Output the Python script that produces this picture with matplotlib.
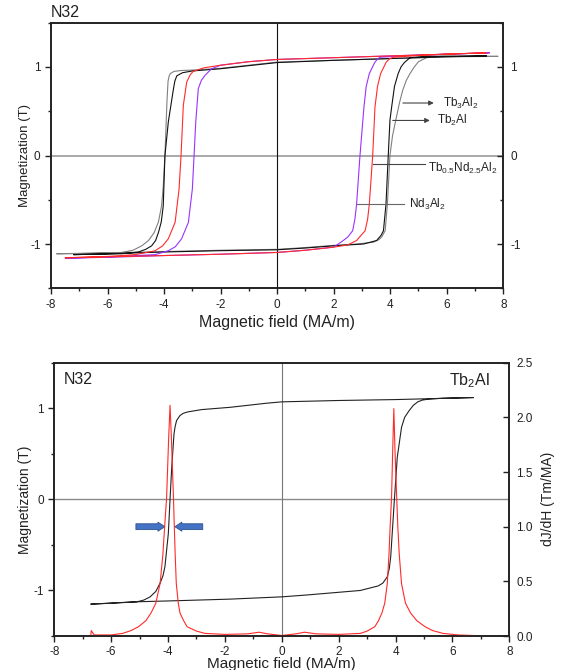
# Hysteresis loops (N32) and dJ/dH of the Tb2Al sample

import matplotlib
matplotlib.use('Agg')
import matplotlib.pyplot as plt
from matplotlib.ticker import MultipleLocator, FormatStrFormatter

plt.rcParams['font.family'] = ['Liberation Sans', 'DejaVu Sans']
plt.rcParams['mathtext.default'] = 'regular'
plt.rcParams['axes.unicode_minus'] = False

# Step 1: data (H in MA/m, M in T)
# loop = descending branch followed by ascending branch
tb3al2_h = [7.8, 6.0, 4.0, 2.0, 0.0, -2.0, -3.0, -3.4, -3.65, -3.78, -3.82, -3.86, -3.9, -3.97, -4.03,
            -4.09, -4.2, -4.35, -4.55, -4.79, -5.1, -5.5, -6.5, -7.8,
            -6.0, -4.0, -2.0, 0.0, 1.0, 2.0, 2.8, 3.4, 3.6, 3.7, 3.82, 3.9, 3.99, 4.08, 4.17,
            4.32, 4.44, 4.57, 4.7, 4.85, 5.0, 5.29, 5.8, 7.8]
tb3al2_m = [1.12, 1.115, 1.095, 1.075, 1.055, 0.985, 0.965, 0.96, 0.95, 0.925, 0.9, 0.84, 0.6, 0.0, -0.35,
            -0.57, -0.75, -0.87, -0.96, -1.02, -1.07, -1.095, -1.105, -1.11,
            -1.10, -1.085, -1.07, -1.06, -1.04, -1.015, -1.0, -0.98, -0.95, -0.92, -0.85, -0.55, 0.0, 0.22, 0.36,
            0.585, 0.736, 0.85, 0.925, 1.0, 1.06, 1.105, 1.12, 1.12]

tb2al_h = [7.4, 6.0, 4.0, 2.0, 0.0, -2.0, -3.0, -3.35, -3.55, -3.62, -3.67, -3.85, -3.97, -4.03, -4.1,
           -4.2, -4.3, -4.44, -4.65, -4.91, -5.5, -6.5, -7.2,
           -6.0, -4.0, -2.0, 0.0, 1.0, 2.0, 3.05, 3.52, 3.68, 3.76, 3.85, 3.93, 3.99, 4.05, 4.15,
           4.28, 4.38, 4.5, 4.7, 5.2, 7.4]
tb2al_m = [1.125, 1.115, 1.095, 1.075, 1.05, 0.98, 0.955, 0.935, 0.9, 0.84, 0.75, 0.38, 0.0, -0.57, -0.75,
           -0.87, -0.96, -1.02, -1.06, -1.09, -1.11, -1.115, -1.12,
           -1.11, -1.09, -1.075, -1.065, -1.045, -1.02, -1.0, -0.96, -0.9, -0.85, -0.55, 0.0, 0.4, 0.547, 0.78,
           0.925, 1.0, 1.05, 1.105, 1.12, 1.125]

tbnd_h = [7.4, 6.0, 4.0, 2.0, 0.0, -1.0, -2.0, -2.6, -2.97, -3.08, -3.2, -3.32, -3.40, -3.47, -3.61,
          -3.85, -4.05, -4.32, -5.03, -6.0, -7.5,
          -6.0, -4.0, -2.0, 0.0, 1.0, 2.0, 2.5, 2.81, 3.11, 3.2, 3.26, 3.38, 3.46, 3.55, 3.66, 3.85,
          3.96, 4.11, 5.0, 6.0, 7.4]
tbnd_m = [1.16, 1.145, 1.125, 1.105, 1.085, 1.06, 1.02, 0.99, 0.95, 0.91, 0.83, 0.566, 0.0, -0.377, -0.755,
          -0.94, -1.02, -1.076, -1.12, -1.14, -1.155,
          -1.145, -1.13, -1.115, -1.095, -1.07, -1.035, -1.01, -0.96, -0.85, -0.72, -0.55, 0.0, 0.547, 0.78,
          0.925, 1.05, 1.09, 1.11, 1.13, 1.145, 1.16]

nd3al2_h = [7.5, 6.0, 4.0, 2.0, 0.0, -1.0, -2.0, -2.32, -2.55, -2.68, -2.79, -2.88, -2.94, -3.0, -3.14,
            -3.38, -3.6, -3.85, -4.32, -6.0, -7.5,
            -6.0, -4.0, -2.0, 0.0, 1.0, 2.0, 2.34, 2.5, 2.67, 2.75, 2.81, 2.93, 3.07, 3.15, 3.26, 3.45,
            3.55, 3.64, 4.5, 6.0, 7.5]
nd3al2_m = [1.16, 1.145, 1.125, 1.105, 1.085, 1.06, 1.02, 0.98, 0.906, 0.85, 0.755, 0.377, 0.0, -0.377, -0.755,
            -0.94, -1.03, -1.076, -1.12, -1.145, -1.16,
            -1.15, -1.13, -1.115, -1.095, -1.07, -1.035, -0.96, -0.92, -0.85, -0.72, -0.55, 0.0, 0.547, 0.78,
            0.925, 1.05, 1.09, 1.11, 1.125, 1.145, 1.16]

# bottom panel: Tb2Al loop and its derivative
loop_h = [6.73, 4.0, 2.0, 0.0, -0.54, -1.82, -2.82, -3.3, -3.46, -3.58, -3.70, -3.75, -3.79, -3.87, -3.93,
          -3.99, -4.11, -4.18, -4.28, -4.43, -4.63, -4.85, -5.10, -6.0, -6.72,
          -5.2, -4.0, -1.82, 0.0, 0.86, 2.76, 3.39, 3.55, 3.71, 3.78, 3.83, 3.96, 4.06, 4.21, 4.32, 4.47,
          4.62, 4.78, 4.95, 5.17, 5.67, 6.73]
loop_m = [1.117, 1.095, 1.085, 1.07, 1.055, 1.01, 0.985, 0.96, 0.945, 0.92, 0.865, 0.8, 0.72, 0.354, 0.0,
          -0.376, -0.74, -0.84, -0.92, -1.01, -1.07, -1.105, -1.125, -1.14, -1.15,
          -1.125, -1.115, -1.095, -1.07, -1.05, -1.0, -0.95, -0.92, -0.85, -0.76, -0.63, 0.0, 0.46, 0.79, 0.9,
          0.97, 1.03, 1.07, 1.09, 1.10, 1.11, 1.117]

djdh_h = [-6.72, -6.7, -6.6, -6.0, -5.6, -5.3, -5.04, -4.78, -4.6, -4.43, -4.28, -4.18, -4.12, -4.05,
          -3.98, -3.93, -3.88, -3.81, -3.78, -3.75, -3.71, -3.64, -3.58, -3.45, -3.33, -3.0, -2.7, -2.0,
          -1.2, -0.8, -0.5, 0.0, 0.5, 0.8, 1.2, 2.0, 2.76, 3.0, 3.27, 3.4, 3.52, 3.62, 3.71, 3.77, 3.81,
          3.86, 3.90, 3.94, 3.98, 4.04, 4.08, 4.13, 4.21, 4.35, 4.53, 4.75, 5.04, 5.3, 5.67, 6.2, 6.72]
djdh = [0.0, 0.05, 0.01, 0.01, 0.024, 0.05, 0.085, 0.14, 0.21, 0.3, 0.48, 0.75, 1.0, 1.27,
        1.8, 2.11, 1.8, 1.27, 1.0, 0.75, 0.48, 0.3, 0.21, 0.14, 0.085, 0.045, 0.024, 0.015,
        0.02, 0.035, 0.02, 0.005, 0.02, 0.035, 0.02, 0.015, 0.024, 0.045, 0.085, 0.14, 0.21, 0.3, 0.48, 0.75, 1.0,
        1.27, 1.7, 2.08, 1.7, 1.27, 1.0, 0.75, 0.48, 0.3, 0.21, 0.14, 0.085, 0.05, 0.024, 0.01, 0.005]
base_h = [-6.72, 6.72]
base_v = [0.0, 0.0]

# Step 2: figure and axes
fig = plt.figure(figsize=(5.65, 6.7), dpi=100)
ax1 = fig.add_axes([0.0903, 0.5697, 0.8005, 0.3964])
ax2 = fig.add_axes([0.0961, 0.0507, 0.8053, 0.4080])

txt = '#222222'


def style_axis(ax):
    ax.set_xlim(-8, 8)
    ax.set_ylim(-1.5, 1.5)
    ax.xaxis.set_major_locator(MultipleLocator(2))
    ax.xaxis.set_minor_locator(MultipleLocator(1))
    ax.yaxis.set_major_locator(MultipleLocator(1))
    ax.yaxis.set_minor_locator(MultipleLocator(0.5))
    ax.tick_params(which='both', direction='out', top=False, right=False,
                   colors='#222222', labelsize=8.5, width=1.0, pad=3)
    ax.tick_params(which='major', length=4.5)
    ax.tick_params(which='minor', length=2.5)
    for s in ax.spines.values():
        s.set_linewidth(1.2)
        s.set_color('#222222')


# Step 3: top panel - four hysteresis loops
style_axis(ax1)
ax1.axhline(0, color='#9a9a9a', lw=1.2, zorder=1)
ax1.axvline(0, color='#111111', lw=0.8, zorder=1)
ax1.plot(tb3al2_h, tb3al2_m, color='#808080', lw=0.8)
ax1.plot(tb2al_h, tb2al_m, color='#111111', lw=0.8)
ax1.plot(nd3al2_h, nd3al2_m, color='#9933ff', lw=0.8)
ax1.plot(tbnd_h, tbnd_m, color='#ff2a2a', lw=0.8)

ax1.set_xlabel('Magnetic field (MA/m)', fontsize=11.5, color=txt, labelpad=3)
ax1.set_ylabel('Magnetization (T)', fontsize=9.5, color=txt, labelpad=-1)
ax1.text(0.0, 1.037, 'N32', transform=ax1.transAxes, fontsize=11.5, color=txt, va='center', ha='left')

ax1r = ax1.twinx()
ax1r.set_ylim(-1.5, 1.5)
ax1r.yaxis.set_major_locator(MultipleLocator(1))
ax1r.yaxis.set_minor_locator(MultipleLocator(0.5))
ax1r.tick_params(which='both', direction='in', colors='#222222', labelsize=8.5, width=1.0, pad=5)
ax1r.tick_params(which='major', length=4.5)
ax1r.tick_params(which='minor', length=2.5)
for s in ax1r.spines.values():
    s.set_linewidth(1.2)
    s.set_color('#222222')

# labels of the four curves
lab = dict(fontsize=8.5, color=txt, va='center', ha='left')
ax1.annotate('', xy=(5.64, 0.593), xytext=(4.35, 0.593),
             arrowprops=dict(arrowstyle='-|>', color='#444444', lw=0.8, mutation_scale=7))
ax1.text(5.86, 0.585, '$Tb_3Al_2$', **lab)
ax1.annotate('', xy=(5.50, 0.396), xytext=(3.99, 0.396),
             arrowprops=dict(arrowstyle='-|>', color='#444444', lw=0.8, mutation_scale=7))
ax1.text(5.64, 0.40, '$Tb_2Al$', **lab)
ax1.plot([3.40, 5.23], [-0.094, -0.094], color='#444444', lw=0.8)
ax1.text(5.35, -0.15, '$Tb_{0.5}Nd_{2.5}Al_2$', **lab)
ax1.plot([2.81, 4.49], [-0.55, -0.55], color='#666666', lw=0.8)
ax1.text(4.66, -0.55, '$Nd_3Al_2$', **lab)

# Step 4: bottom panel - Tb2Al loop with dJ/dH
style_axis(ax2)
ax2.axhline(0, color='#8a8a8a', lw=1.0, zorder=1)
ax2.axvline(0, color='#777777', lw=0.8, zorder=1)
ax2.plot(loop_h, loop_m, color='#222222', lw=0.8, zorder=3)
ax2.set_xlabel('Magnetic field (MA/m)', fontsize=11, color=txt, labelpad=-1)
ax2.set_ylabel('Magnetization (T)', fontsize=10, color=txt, labelpad=1)
ax2.text(-7.16, 1.31, 'N32', fontsize=11.5, color=txt, va='center', ha='center')
ax2.text(6.6, 1.30, '$Tb_2Al$', fontsize=11.5, color=txt, va='center', ha='center')

arrow_style = 'simple,head_length=0.5,head_width=0.65,tail_width=0.42'
ax2.annotate('', xy=(-4.11, -0.30), xytext=(-5.13, -0.30),
             arrowprops=dict(arrowstyle=arrow_style, fc='#4472c4', ec='#2f528f', lw=0.6,
                             mutation_scale=10, shrinkA=0, shrinkB=0))
ax2.annotate('', xy=(-3.76, -0.30), xytext=(-2.78, -0.30),
             arrowprops=dict(arrowstyle=arrow_style, fc='#4472c4', ec='#2f528f', lw=0.6,
                             mutation_scale=10, shrinkA=0, shrinkB=0))

ax2r = ax2.twinx()
ax2r.set_ylim(0, 2.5)
ax2r.yaxis.set_major_locator(MultipleLocator(0.5))
ax2r.yaxis.set_major_formatter(FormatStrFormatter('%.1f'))
ax2r.tick_params(which='both', direction='in', colors='#222222', labelsize=8.5, width=1.0, pad=5, length=4.5)
for s in ax2r.spines.values():
    s.set_linewidth(1.2)
    s.set_color('#222222')
ax2r.plot(base_h, base_v, color='#ff2a2a', lw=0.8)
ax2r.plot(djdh_h, djdh, color='#ff2a2a', lw=0.8)
ax2r.set_ylabel('dJ/dH (Tm/MA)', fontsize=10, color=txt, labelpad=6)

# Step 5: save
fig.savefig('out.png', dpi=100)
